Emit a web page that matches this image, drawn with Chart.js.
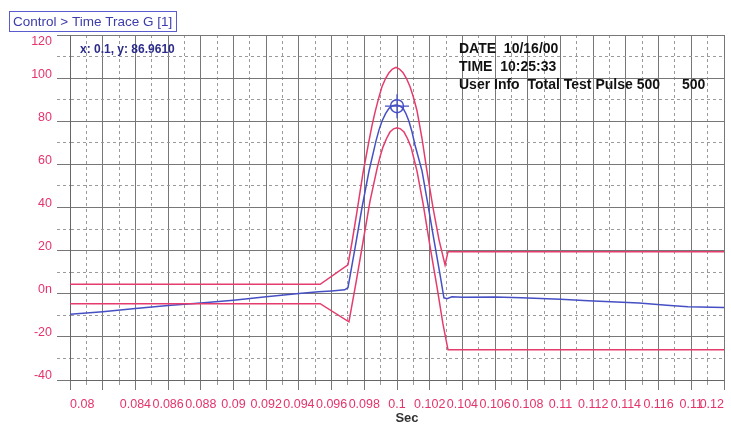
<!DOCTYPE html>
<html>
<head>
<meta charset="utf-8">
<script src="https://cdn.jsdelivr.net/npm/chart.js@4.4.0/dist/chart.umd.min.js"></script>
<style>
  html, body { margin: 0; padding: 0; background: #fff; }
  #wrap { width: 731px; height: 424px; position: relative; }
</style>
</head>
<body>
<div id="wrap"><canvas id="trace" width="731" height="424"></canvas></div>
<script>
// --- traza medida (azul) ---
const measX = [0.08, 0.082, 0.084, 0.086, 0.088, 0.09, 0.092, 0.094, 0.0952, 0.096, 0.0968,
  0.0970, 0.09743, 0.09786, 0.09829, 0.09872, 0.09890, 0.09908, 0.09930, 0.09951, 0.09972,
  0.09994, 0.10015, 0.10037, 0.10055, 0.10073, 0.10092, 0.10110, 0.10153, 0.10190, 0.10226,
  0.10263, 0.10287, 0.10306, 0.10336, 0.104, 0.106, 0.1076, 0.11, 0.1117, 0.1148, 0.1165,
  0.1178, 0.12];
const measY = [-9.5, -8.3, -6.8, -5.5, -4.3, -3.0, -1.4, 0.1, 0.9, 1.3, 1.8,
  2.8, 21, 40, 57, 71, 76, 80, 83.5, 86, 87.2,
  87.5, 87.2, 86, 83.5, 80, 75, 69, 57, 41, 25,
  9, -1.9, -2.3, -1.4, -1.6, -1.5, -1.9, -2.5, -3.2, -4.3, -5.3,
  -6.0, -6.4];

// --- limite superior (rojo) ---
const upperX = [0.08, 0.0953, 0.09700, 0.09725, 0.09755, 0.09792, 0.09829, 0.09847, 0.09865,
  0.09887, 0.09908, 0.09930, 0.09951, 0.09972, 0.09994, 0.10015, 0.10037, 0.10058, 0.10080,
  0.10101, 0.10122, 0.10153, 0.10183, 0.10220, 0.10257, 0.10294, 0.10312, 0.12];
const upperY = [4.4, 4.4, 13.4, 24, 38, 56, 71, 78, 84,
  90.5, 96, 99.8, 102.5, 104.2, 105, 104.2, 102.5, 99.8, 96,
  91, 85, 72, 57, 40, 25, 13.4, 19.5, 19.5];

// --- limite inferior (rojo) ---
const lowerX = [0.08, 0.0953, 0.09706, 0.09749, 0.09792, 0.09835, 0.09878, 0.09896, 0.09914,
  0.09936, 0.09957, 0.09979, 0.10000, 0.10021, 0.10043, 0.10064, 0.10086, 0.10104, 0.10122,
  0.10159, 0.10202, 0.10245, 0.10281, 0.10312, 0.12];
const lowerY = [-4.6, -4.6, -13, 5, 24, 43, 58, 63.5, 68,
  72, 75, 76.5, 77, 76.5, 75, 72, 68, 62.5, 57,
  42, 22, 3, -14, -26, -26];

// cursor
const cursorX = [0.1];
const cursorY = [87];

// etiquetas de los ejes
const xTickLabels = ['0.08', '', '0.084', '0.086', '0.088', '0.09', '0.092', '0.094', '0.096',
  '0.098', '0.1', '0.102', '0.104', '0.106', '0.108', '0.11', '0.112', '0.114', '0.116',
  '0.11', '0.12'];
const yTickLabels = ['-40', '-20', '0n', '20', '40', '60', '80', '100', '120'];

const RED = '#e43c6c';
const BLUE = '#4650c4';
const PINK = '#e5336b';
const FONT = '"Liberation Sans", Arial, sans-serif';

function toPoints(xs, ys) {
  return xs.map((x, i) => ({ x: x, y: ys[i] }));
}

// textos superpuestos
const overlayText = {
  id: 'overlayText',
  afterDraw(chart) {
    const ctx = chart.ctx;
    const yScale = chart.scales.y;
    ctx.save();
    // la etiqueta superior (120) queda bajo la caja del titulo
    ctx.fillStyle = PINK;
    ctx.font = '12.5px ' + FONT;
    ctx.textAlign = 'right';
    ctx.textBaseline = 'middle';
    ctx.fillText(yTickLabels[yTickLabels.length - 1], 52, yScale.getPixelForValue(120) + 7);

    // caja de titulo
    ctx.textAlign = 'left';
    ctx.strokeStyle = '#5b5bd0';
    ctx.lineWidth = 1;
    ctx.strokeRect(9.5, 11.5, 167, 20);
    ctx.fillStyle = '#3c3cab';
    ctx.font = '13.5px ' + FONT;
    ctx.fillText('Control > Time Trace G [1]', 13, 22);

    ctx.fillStyle = '#2c2c8a';
    ctx.font = 'bold 12px ' + FONT;
    ctx.fillText('x: 0.1, y: 86.9610', 80, 50);

    ctx.fillStyle = '#111';
    ctx.font = 'bold 14px ' + FONT;
    ctx.fillText('DATE  10/16/00', 459, 49);
    ctx.fillText('TIME  10:25:33', 459, 67);
    ctx.fillText('User Info  Total Test Pulse 500', 459, 85);
    ctx.fillText('500', 682, 85);

    ctx.fillStyle = '#333';
    ctx.font = 'bold 13px ' + FONT;
    ctx.textAlign = 'center';
    ctx.fillText('Sec', 407, 418);
    ctx.restore();
  }
};

const isOddX = ctx => ctx.tick && Math.round(ctx.tick.value * 1000) % 2 !== 0;
const isOddY = ctx => ctx.tick && Math.round(ctx.tick.value) % 20 !== 0;

new Chart(document.getElementById('trace'), {
  type: 'line',
  data: {
    datasets: [
      { data: toPoints(upperX, upperY), borderColor: RED, borderWidth: 1.5, pointRadius: 0, tension: 0 },
      { data: toPoints(lowerX, lowerY), borderColor: RED, borderWidth: 1.5, pointRadius: 0, tension: 0 },
      { data: toPoints(measX, measY), borderColor: BLUE, borderWidth: 1.5, pointRadius: 0, tension: 0 },
      { data: toPoints(cursorX, cursorY), showLine: false, pointStyle: 'circle', pointRadius: 6.5,
        borderColor: BLUE, backgroundColor: 'rgba(0,0,0,0)', pointBorderWidth: 1.5 },
      { data: toPoints(cursorX, cursorY), showLine: false, pointStyle: 'cross', pointRadius: 12,
        borderColor: BLUE, pointBorderWidth: 1.2 }
    ]
  },
  options: {
    responsive: false,
    animation: false,
    events: [],
    layout: { autoPadding: false, padding: { top: 35, right: 7, bottom: 0, left: 0 } },
    plugins: { legend: { display: false }, tooltip: { enabled: false } },
    scales: {
      x: {
        type: 'linear',
        min: 0.08,
        max: 0.12,
        afterBuildTicks: scale => {
          const t = [];
          for (let i = 0; i <= 40; i++) t.push({ value: (80 + i) / 1000 });
          scale.ticks = t;
        },
        afterFit: scale => {
          scale.height = 44;
          scale.paddingLeft = 0;
          scale.paddingRight = 0;
        },
        ticks: {
          autoSkip: false,
          maxRotation: 0,
          align: 'inner',
          padding: 7,
          color: PINK,
          font: { family: FONT, size: 12.5 },
          callback: v => {
            const i = Math.round(v * 1000) - 80;
            return i % 2 === 0 ? xTickLabels[i / 2] : '';
          }
        },
        grid: {
          color: ctx => isOddX(ctx) ? '#9a9a9a' : '#777',
          tickColor: ctx => isOddX(ctx) ? '#9a9a9a' : '#777',
          tickLength: 10,
          tickBorderDash: ctx => isOddX(ctx) ? [4, 6] : []
        },
        border: { color: '#666', dash: ctx => isOddX(ctx) ? [3, 3] : [] }
      },
      y: {
        min: -40,
        max: 120,
        afterBuildTicks: scale => {
          const t = [];
          for (let v = -40; v <= 120; v += 10) t.push({ value: v });
          scale.ticks = t;
        },
        afterFit: scale => {
          scale.width = 70;
          scale.paddingTop = 0;
          scale.paddingBottom = 0;
        },
        ticks: {
          autoSkip: false,
          padding: 5,
          labelOffset: -4,
          color: PINK,
          font: { family: FONT, size: 12.5 },
          // 120 se dibuja aparte (ver overlayText)
          callback: v => (Math.round(v) % 20 === 0 && Math.round(v) < 120 ? yTickLabels[(Math.round(v) + 40) / 20] : '')
        },
        grid: {
          color: ctx => isOddY(ctx) ? '#9a9a9a' : '#777',
          tickColor: ctx => isOddY(ctx) ? '#9a9a9a' : '#777',
          tickLength: 13,
          tickBorderDash: ctx => isOddY(ctx) ? [3, 3] : []
        },
        border: { color: '#666', dash: ctx => isOddY(ctx) ? [3, 3] : [] }
      }
    }
  },
  plugins: [overlayText]
});
</script>
</body>
</html>
